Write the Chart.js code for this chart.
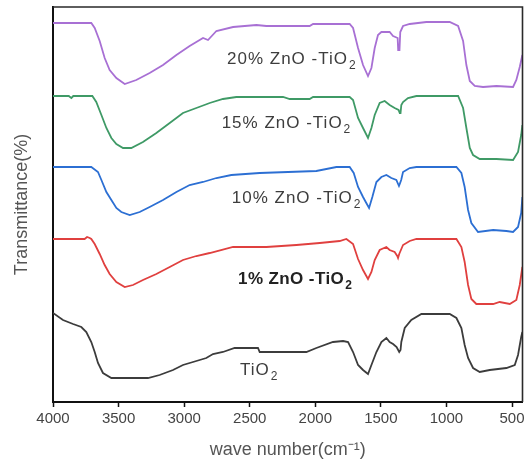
<!DOCTYPE html>
<html>
<head>
<meta charset="utf-8">
<script src="https://cdn.jsdelivr.net/npm/chart.js@4.4.1/dist/chart.umd.min.js"></script>
<style>
  html, body { margin: 0; padding: 0; background: #fff; }
  #wrap { width: 526px; height: 461px; }
</style>
</head>
<body>
<div id="wrap"><canvas id="c" width="526" height="461"></canvas></div>
<script>
// Wavenumber ticks (cm-1)
const xTicks = [4000, 3500, 3000, 2500, 2000, 1500, 1000, 500];

// Series: [wavenumber, transmittance (a.u., stacked offsets)]
const zno20 = [[4000,379],[3708,379],[3682,374],[3644,361],[3606,344],[3568,332],[3517,324],[3453,318],[3365,322],[3263,329],[3161,337],[3059,347],[2958,356],[2856,364],[2818,362],[2754,371],[2627,375],[2449,377],[2373,376],[2043,376],[2017,378],[1738,378],[1712,374],[1674,354],[1636,337],[1598,326],[1572,334],[1547,354],[1522,367],[1496,370],[1433,370],[1407,366],[1372,364],[1368,352],[1358,352],[1352,370],[1331,376],[1280,378],[1153,380],[975,380],[911,376],[873,361],[848,337],[822,321],[784,316],[721,315],[619,316],[492,315],[467,322],[441,335],[421,347]];

const zno15 = [[4000,306],[3880,306],[3860,304],[3845,306],[3700,306],[3670,300],[3631,287],[3593,274],[3555,264],[3517,258],[3466,254],[3403,254],[3314,260],[3212,269],[3110,279],[3009,289],[2907,294],[2805,299],[2704,303],[2602,305],[2246,305],[2195,303],[2043,303],[2017,305],[1738,305],[1712,302],[1674,284],[1636,274],[1598,264],[1572,274],[1547,287],[1509,299],[1471,301],[1433,297],[1395,294],[1365,292],[1356,289],[1350,289],[1344,297],[1331,300],[1293,304],[1229,306],[911,306],[873,294],[848,274],[822,254],[797,247],[746,243],[619,243],[492,242],[454,250],[430,267],[421,277]];

const zno10 = [[4000,235],[3708,235],[3657,230],[3631,222],[3593,210],[3555,202],[3517,194],[3479,190],[3415,187],[3339,190],[3263,195],[3161,202],[3059,210],[2958,217],[2856,220],[2754,224],[2640,227],[2424,229],[1992,231],[1839,235],[1738,235],[1707,229],[1674,215],[1636,205],[1611,199],[1590,194],[1565,205],[1534,220],[1496,225],[1458,227],[1420,224],[1382,222],[1362,216],[1356,218],[1345,222],[1331,230],[1280,234],[1229,235],[924,235],[886,229],[861,215],[835,192],[810,179],[759,170],[644,172],[543,171],[492,170],[454,175],[430,189],[421,205]];

const zno1 = [[4000,163],[3759,163],[3740,165],[3720,164],[3708,163],[3682,158],[3644,148],[3606,137],[3568,128],[3517,120],[3453,115],[3390,117],[3314,122],[3212,128],[3110,135],[3009,142],[2907,146],[2805,149],[2627,155],[2373,155],[2144,157],[1966,159],[1814,161],[1763,163],[1712,158],[1674,143],[1636,132],[1598,123],[1572,130],[1547,142],[1509,152],[1458,155],[1433,152],[1395,150],[1375,146],[1369,144],[1360,148],[1331,157],[1280,161],[1229,163],[924,163],[886,155],[861,140],[835,117],[810,103],[772,98],[644,98],[594,100],[517,98],[467,102],[441,117],[421,135]];

const tio2 = [[4000,89],[3924,82],[3847,78],[3784,75],[3746,70],[3708,60],[3682,50],[3657,39],[3619,29],[3555,24],[3276,24],[3187,27],[3085,32],[3009,37],[2907,41],[2831,44],[2780,48],[2704,50],[2615,54],[2437,54],[2424,50],[2068,50],[1992,54],[1865,60],[1788,61],[1750,60],[1712,50],[1674,37],[1636,32],[1598,28],[1572,37],[1534,50],[1496,60],[1458,64],[1433,60],[1407,58],[1380,55],[1360,50],[1350,52],[1344,60],[1318,74],[1268,82],[1191,88],[975,88],[924,84],[886,74],[861,57],[835,44],[797,34],[746,30],[670,32],[543,34],[479,37],[454,47],[430,65],[421,70]];

const seriesNames = ['20% ZnO -TiO2', '15% ZnO -TiO2', '10% ZnO -TiO2', '1% ZnO -TiO2', 'TiO2'];
const seriesData = [zno20, zno15, zno10, zno1, tio2];
const seriesColors = ['#a870d4', '#3f9a66', '#2c6fd3', '#e0403f', '#3c3c3c'];

// Curve labels: main text, subscript
const labelMain = ['20% ZnO -TiO', '15% ZnO -TiO', '10% ZnO -TiO', '1% ZnO -TiO', 'TiO'];
const labelSub = ['2', '2', '2', '2', '2'];
const labelAt = [[2673,343],[2714,279],[2637,204],[2589,123],[2574,32]];
const labelBold = [false, false, false, true, false];

const FONT = '"Liberation Sans", Arial, sans-serif';

const framePlugin = {
  id: 'frame',
  afterDatasetsDraw(chart) {
    const {ctx, chartArea: a, scales: {x, y}} = chart;
    ctx.save();
    // top and right frame
    ctx.strokeStyle = '#2a2a2a';
    ctx.lineWidth = 1.6;
    ctx.beginPath();
    ctx.moveTo(a.left, a.top);
    ctx.lineTo(a.right, a.top);
    ctx.lineTo(a.right, a.bottom);
    ctx.stroke();
    // curve labels
    ctx.textBaseline = 'middle';
    ctx.textAlign = 'left';
    for (let i = 0; i < labelMain.length; i++) {
      const px = x.getPixelForValue(labelAt[i][0]);
      const py = y.getPixelForValue(labelAt[i][1]);
      const w = labelBold[i] ? 'bold ' : '';
      ctx.fillStyle = labelBold[i] ? '#222' : '#3d3d3d';
      ctx.letterSpacing = labelBold[i] ? '0.4px' : '1px';
      ctx.font = w + '17px ' + FONT;
      ctx.fillText(labelMain[i], px, py);
      const mw = ctx.measureText(labelMain[i]).width;
      ctx.font = w + '12px ' + FONT;
      ctx.fillText(labelSub[i], px + mw + 1, py + 7);
    }
    ctx.restore();
  }
};

new Chart(document.getElementById('c'), {
  type: 'line',
  data: {
    datasets: seriesData.map((d, i) => ({
      label: seriesNames[i],
      data: d.map(p => ({x: p[0], y: p[1]})),
      borderColor: seriesColors[i],
      borderWidth: 1.8,
      pointRadius: 0,
      tension: 0,
      fill: false
    }))
  },
  options: {
    responsive: false,
    animation: false,
    devicePixelRatio: 1,
    layout: { padding: { top: 7, right: 3.5, bottom: 0, left: 0 } },
    plugins: { legend: { display: false }, tooltip: { enabled: false } },
    scales: {
      x: {
        type: 'linear',
        reverse: true,
        min: 420,
        max: 4000,
        afterBuildTicks(scale) { scale.ticks = xTicks.map(v => ({value: v})); },
        afterFit(scale) { scale.height = 59; scale.paddingLeft = 0; scale.paddingRight = 0; },
        ticks: {
          autoSkip: false,
          maxRotation: 0,
          padding: 3,
          color: '#444',
          font: { family: FONT, size: 15 },
          callback: v => String(v)
        },
        grid: { display: true, drawOnChartArea: false, drawTicks: true, tickLength: 5, tickColor: '#111', tickWidth: 1.5 },
        border: { display: true, color: '#111', width: 2 },
        title: {
          display: true,
          text: 'wave number(cm⁻¹)',
          color: '#555',
          font: { family: FONT, size: 18 },
          padding: { top: 0, bottom: 0 }
        }
      },
      y: {
        type: 'linear',
        min: 0,
        max: 395,
        afterFit(scale) { scale.width = 53; },
        ticks: { display: false },
        grid: { display: false, drawTicks: false },
        border: { display: true, color: '#111', width: 2 },
        title: {
          display: true,
          text: 'Transmittance(%)',
          color: '#555',
          font: { family: FONT, size: 18 },
          padding: { top: 11, bottom: 0 }
        }
      }
    }
  },
  plugins: [framePlugin]
});
</script>
</body>
</html>
